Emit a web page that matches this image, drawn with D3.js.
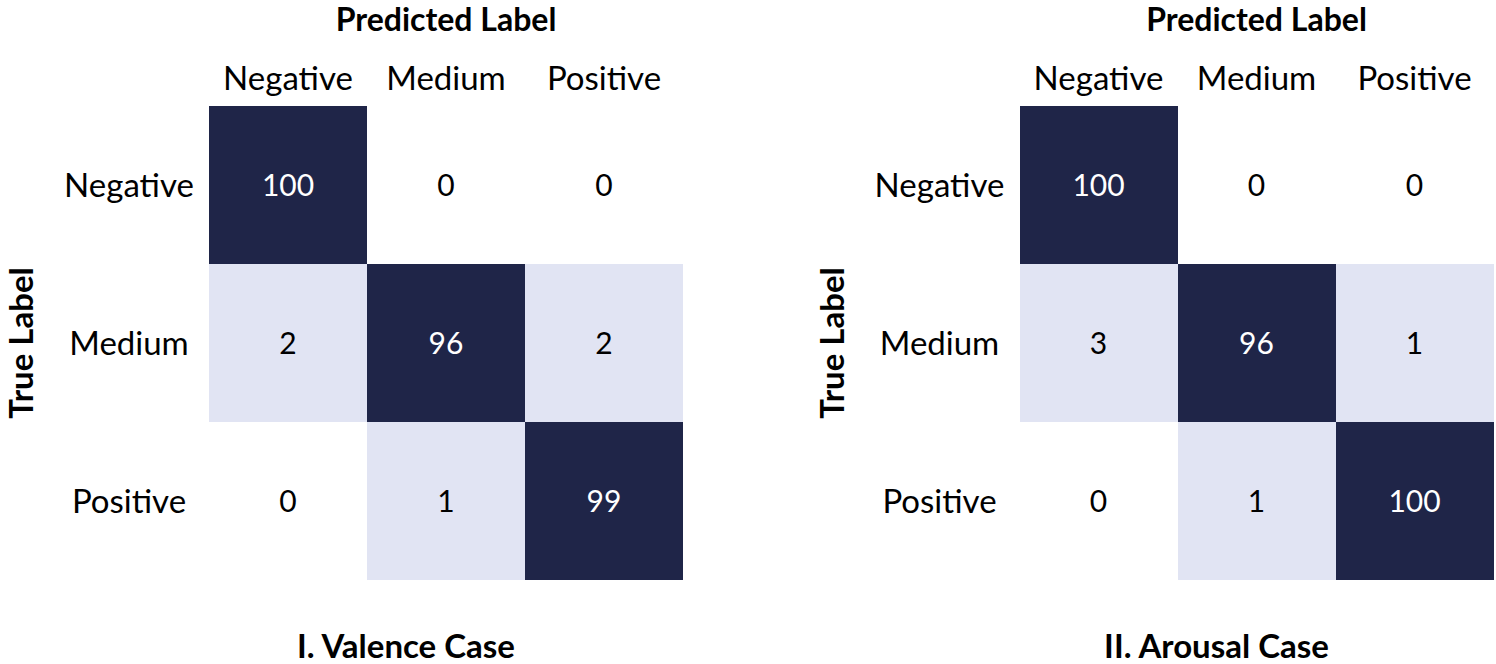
<!DOCTYPE html>
<html>
<head>
<meta charset="utf-8">
<script src="https://cdn.jsdelivr.net/npm/d3@7/dist/d3.min.js"></script>
<style>
  html, body { margin: 0; padding: 0; background: #fff; }
  svg { display: block; }
  text { font-family: Lato, "Open Sans", sans-serif; }
</style>
</head>
<body>
<svg id="chart" width="1496" height="664"></svg>
<script>
const classes = ["Negative", "Medium", "Positive"];
const valenceMatrix = [
  [100, 0, 0],
  [2, 96, 2],
  [0, 1, 99]
];
const arousalMatrix = [
  [100, 0, 0],
  [3, 96, 1],
  [0, 1, 100]
];
const panelTitles = ["I. Valence Case", "II. Arousal Case"];
const xAxisTitle = "Predicted Label";
const yAxisTitle = "True Label";

const panels = [
  { matrix: valenceMatrix, title: panelTitles[0], left: 209 },
  { matrix: arousalMatrix, title: panelTitles[1], left: 1019.5 }
];

const svg = d3.select("#chart");
const gridTop = 106, gridSize = 474;
const dark = "#1f2548", light = "#e1e4f3";
const color = d3.scaleThreshold().domain([1, 50]).range(["#ffffff", light, dark]);

panels.forEach(p => {
  const g = svg.append("g");
  const x = d3.scaleBand().domain(classes).range([p.left, p.left + gridSize]);
  const y = d3.scaleBand().domain(classes).range([gridTop, gridTop + gridSize]);

  const cells = [];
  p.matrix.forEach((row, i) => row.forEach((v, j) => cells.push({ t: classes[i], pr: classes[j], v })));

  g.selectAll("rect").data(cells).join("rect")
    .attr("x", d => x(d.pr))
    .attr("y", d => y(d.t))
    .attr("width", x.bandwidth())
    .attr("height", y.bandwidth())
    .attr("fill", d => color(d.v))
    .attr("shape-rendering", "crispEdges");

  g.selectAll("text.val").data(cells).join("text")
    .attr("class", "val")
    .attr("x", d => x(d.pr) + x.bandwidth() / 2)
    .attr("y", d => y(d.t) + y.bandwidth() / 2 + 11)
    .attr("text-anchor", "middle")
    .attr("font-size", 30)
    .attr("fill", d => d.v >= 50 ? "#ffffff" : "#000000")
    .text(d => d.v);

  g.selectAll("text.col").data(classes).join("text")
    .attr("class", "col")
    .attr("x", d => x(d) + x.bandwidth() / 2)
    .attr("y", 90)
    .attr("text-anchor", "middle")
    .attr("font-size", 33)
    .attr("fill", "#000")
    .text(d => d);

  g.selectAll("text.row").data(classes).join("text")
    .attr("class", "row")
    .attr("x", p.left - 80)
    .attr("y", d => y(d) + y.bandwidth() / 2 + 12)
    .attr("text-anchor", "middle")
    .attr("font-size", 33)
    .attr("fill", "#000")
    .text(d => d);

  g.append("text")
    .attr("x", p.left + gridSize / 2)
    .attr("y", 31)
    .attr("text-anchor", "middle")
    .attr("font-size", 32)
    .attr("font-weight", "bold")
    .attr("fill", "#000")
    .text(xAxisTitle);

  g.append("text")
    .attr("transform", `translate(${p.left - 176},${gridTop + gridSize / 2}) rotate(-90)`)
    .attr("text-anchor", "middle")
    .attr("font-size", 33)
    .attr("font-weight", "bold")
    .attr("fill", "#000")
    .text(yAxisTitle);

  g.append("text")
    .attr("x", p.left + gridSize / 2 - 40)
    .attr("y", 658)
    .attr("text-anchor", "middle")
    .attr("font-size", 33)
    .attr("font-weight", "bold")
    .attr("fill", "#000")
    .text(p.title);
});
</script>
</body>
</html>
